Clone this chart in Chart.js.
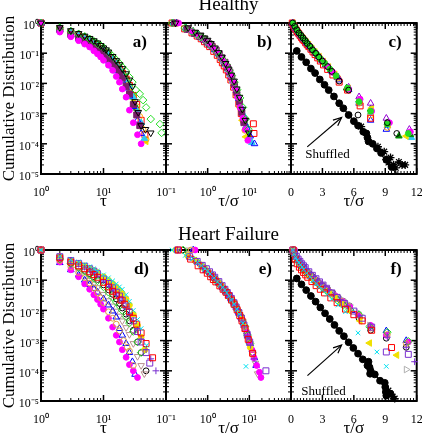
<!DOCTYPE html>
<html><head><meta charset="utf-8">
<script src="https://cdn.jsdelivr.net/npm/chart.js@4.4.1/dist/chart.umd.min.js"></script>
<style>
html,body{margin:0;padding:0;background:#fff;}
#wrap{position:relative;width:422px;height:440px;overflow:hidden;background:#fff;}
#wrap canvas{position:absolute;left:0;top:0;}
</style></head><body>
<div id="wrap">
<canvas id="pa" width="422" height="440"></canvas>
<canvas id="pb" width="422" height="440"></canvas>
<canvas id="pc" width="422" height="440"></canvas>
<canvas id="pd" width="422" height="440"></canvas>
<canvas id="pe" width="422" height="440"></canvas>
<canvas id="pf" width="422" height="440"></canvas>
</div>
<script>
// ---------------- axis ranges, ticks, labels ----------------
const yRange = [1e-5, 1];
const yTickValues = [1e-5, 1e-4, 1e-3, 1e-2, 1e-1, 1];
const yTickLabels = ['10⁻⁵', '10⁻⁴', '10⁻³', '10⁻²', '10⁻¹', '10⁰'];
const xRangeTau = [1, 100];
const xTickValuesTau = [1, 10];
const xTickLabelsTau = ['10⁰', '10¹'];
const xRangeScaledLog = [0.1, 100];
const xTickValuesScaledLog = [0.1, 1, 10];
const xTickLabelsScaledLog = ['10⁻¹', '10⁰', '10¹'];
const xRangeScaledLin = [0, 12];
const xTickValuesScaledLin = [0, 3, 6, 9, 12];
const xTickLabelsScaledLin = ['0', '3', '6', '9', '12'];
const yTitle = 'Cumulative Distribution';
const xTitleTau = 'τ';
const xTitleScaled = 'τ/σ';
const groupTitles = ['Healthy', 'Heart Failure'];
const panelLabels = ['a)', 'b)', 'c)', 'd)', 'e)', 'f)'];
const shuffledText = 'Shuffled';

// ---------------- Healthy: panel a (x = tau) ----------------
const tauA = [
 [1,2,3,4,5,6,7,8,9,10,11,12,14,16,18,20,23,26,29,32,36,40,47,57],
 [1,2,3,4,5,6,7,8,9,10,12,14,16,18,20,23,26,29,33,38,43,48,57,80,85],
 [1,2,3,4,5,6,7,8,9,10,12,14,16,18,20,23,26,30,35,40],
 [1,2,3,4,5,6,7,8,9,10,12,14,16,18,20,23,26,30,34,38],
 [1,2,3,4,5,6,7,8,10,12,14,16,18,20,23,26,30,35,40],
 [1,2,3,4,5,6,7,8,10,12,14,16,18,20,23,26,30,35,40,45],
 [1,2,3,4,5,6,7,8,10,12,14,16,18,20,23,26,30,34,38,43,48],
 [1,2,3,4,5,6,7,8,10,12,14,16,18,20,23,26,30,35,40,48],
 [1,2,3,4,5,6,7,8,10,12,14,16,18,20,23,26,30,34,40,46],
 [1,2,3,4,5,6,7,8,10,12,14,16,18,20,23,26,30,34]
];
const cdfA = [
 [1,0.72,0.56,0.45,0.37,0.31,0.26,0.22,0.18,0.15,0.13,0.11,0.078,0.057,0.042,0.031,0.021,0.013,0.008,0.0025,0.0011,0.0004,0.0003,0.00023],
 [1,0.7,0.54,0.44,0.36,0.3,0.25,0.21,0.18,0.155,0.11,0.08,0.06,0.046,0.035,0.025,0.016,0.011,0.006,0.0045,0.0028,0.0016,0.00066,0.00045,0.00023],
 [1,0.5,0.35,0.26,0.2,0.16,0.12,0.095,0.075,0.058,0.04,0.027,0.017,0.011,0.0065,0.0035,0.0013,0.0005,0.0002,0.0001],
 [1,0.6,0.42,0.33,0.26,0.21,0.17,0.14,0.115,0.095,0.065,0.045,0.032,0.022,0.015,0.008,0.0045,0.002,0.0009,0.0004],
 [1,0.58,0.4,0.3,0.24,0.19,0.15,0.12,0.08,0.055,0.037,0.026,0.018,0.012,0.007,0.0038,0.0017,0.0006,0.00022],
 [1,0.65,0.48,0.38,0.3,0.25,0.2,0.17,0.12,0.085,0.06,0.043,0.031,0.022,0.013,0.008,0.0035,0.0012,0.0005,0.00015],
 [1,0.62,0.45,0.35,0.28,0.23,0.19,0.16,0.11,0.078,0.055,0.04,0.029,0.021,0.013,0.0078,0.0037,0.0017,0.0008,0.0003,0.00014],
 [1,0.6,0.44,0.34,0.27,0.22,0.18,0.15,0.1,0.072,0.05,0.036,0.026,0.018,0.011,0.0065,0.003,0.0011,0.0004,0.00012],
 [1,0.64,0.47,0.37,0.3,0.24,0.2,0.165,0.115,0.082,0.058,0.042,0.03,0.022,0.014,0.0085,0.004,0.002,0.0006,0.0002],
 [1,0.7,0.53,0.43,0.35,0.29,0.24,0.2,0.14,0.1,0.07,0.05,0.036,0.026,0.016,0.009,0.004,0.0015]
];

// ---------------- Healthy: panel b (x = tau/sigma, log) ----------------
const uB = [
 [0.17,0.34,0.5,0.68,0.85,1.0,1.2,1.5,1.85,2.2,2.7,3.2,3.7,4.3,5.0,5.8,6.8,8.0,9.7],
 [0.14,0.28,0.42,0.56,0.7,0.85,1.1,1.4,1.7,2.0,2.4,2.8,3.3,3.8,4.4,5.1,6.0,7.0,8.2,9.5],
 [0.2,0.4,0.6,0.8,1.0,1.2,1.4,1.6,1.8,2.0,2.4,2.8,3.2,3.6,4.0,4.6,5.2,6.0,7.0,8.0,9.2],
 [0.16,0.32,0.48,0.64,0.8,0.96,1.12,1.28,1.6,1.9,2.2,2.6,3.0,3.4,3.8,4.4,5.0,5.8,6.6,7.4],
 [0.18,0.36,0.54,0.72,0.9,1.1,1.3,1.5,1.8,2.2,2.6,3.0,3.4,3.8,4.3,4.9,5.6,6.5,7.5,8.7,10.5,13.3],
 [0.15,0.3,0.45,0.6,0.75,0.9,1.05,1.2,1.5,1.8,2.1,2.4,2.7,3.1,3.5,4.0,4.6,5.3,6.2,7.3,8.5,11.5],
 [0.16,0.32,0.48,0.64,0.8,0.96,1.12,1.3,1.6,1.95,2.3,2.6,2.9,3.3,3.7,4.2,4.8,5.5,6.2,7.0,7.8],
 [0.17,0.34,0.51,0.68,0.85,1.0,1.2,1.4,1.7,2.0,2.4,2.75,3.1,3.4,3.9,4.4,5.1,5.9,6.8,8.2],
 [0.14,0.28,0.42,0.56,0.7,0.84,0.98,1.12,1.4,1.7,2.0,2.25,2.5,2.8,3.2,3.6,4.2,4.8,5.6,6.4,7.4,12.5,12.9],
 [0.15,0.3,0.45,0.6,0.75,0.9,1.05,1.2,1.5,1.8,2.1,2.4,2.7,3.0,3.4,3.9,4.4,5.0,5.7,6.5,7.5,8.5,9.5]
];
const cdfB = [
 [1,0.7,0.5,0.4,0.32,0.27,0.21,0.15,0.105,0.074,0.046,0.03,0.019,0.012,0.0066,0.0035,0.0014,0.0006,0.00023],
 [1,0.68,0.52,0.41,0.34,0.28,0.2,0.145,0.11,0.082,0.058,0.042,0.027,0.018,0.011,0.0062,0.0033,0.0016,0.00066,0.0003],
 [1,0.55,0.38,0.29,0.23,0.18,0.15,0.12,0.1,0.08,0.055,0.038,0.026,0.018,0.012,0.0068,0.0035,0.0016,0.0007,0.0003,0.00013],
 [1,0.62,0.45,0.36,0.29,0.24,0.2,0.17,0.125,0.092,0.07,0.05,0.034,0.024,0.016,0.009,0.005,0.0024,0.0011,0.0005],
 [1,0.58,0.42,0.33,0.26,0.2,0.16,0.13,0.1,0.068,0.046,0.032,0.022,0.015,0.0095,0.0058,0.0031,0.0014,0.0007,0.00035,0.00018,0.0001],
 [1,0.66,0.49,0.39,0.31,0.26,0.21,0.18,0.13,0.095,0.072,0.054,0.041,0.028,0.019,0.012,0.0072,0.0038,0.0018,0.0009,0.0004,0.00011],
 [1,0.63,0.46,0.36,0.29,0.24,0.2,0.165,0.115,0.08,0.057,0.043,0.032,0.022,0.015,0.009,0.0053,0.0028,0.0014,0.0006,0.00028],
 [1,0.6,0.44,0.34,0.27,0.22,0.18,0.15,0.1,0.074,0.05,0.036,0.026,0.019,0.012,0.0075,0.0038,0.0016,0.0006,0.00017],
 [1,0.64,0.47,0.37,0.3,0.24,0.2,0.165,0.115,0.085,0.062,0.048,0.038,0.028,0.019,0.013,0.0075,0.0042,0.0021,0.001,0.0006,0.00046,0.00022],
 [1,0.7,0.53,0.43,0.35,0.29,0.24,0.2,0.14,0.1,0.075,0.056,0.043,0.033,0.022,0.014,0.0095,0.0055,0.0028,0.0015,0.0008,0.0004,0.0002]
];

// ---------------- Healthy: panel c (x = tau/sigma, linear) ----------------
const uC = [
 [0.15,0.35,0.55,0.75,0.95,1.15,1.35,1.55,1.8,2.05,2.35,2.65,3.0,3.5,3.9,4.6,5.5,6.4,9.2,10.1],
 [0.2,0.4,0.6,0.8,1.0,1.2,1.4,1.6,1.9,2.2,2.5,2.8,3.2,3.7,4.3,5.4,6.5,7.6,9.2,11.2],
 [0.18,0.36,0.54,0.72,0.9,1.1,1.3,1.5,1.75,2.0,2.3,2.6,3.0,3.5,4.0,5.5,6.6,7.7,9.4,11.4],
 [0.15,0.3,0.45,0.6,0.75,0.9,1.05,1.2,1.5,1.8,2.1,2.4,2.7,3.0,3.4,3.9,4.5,5.5,6.5,7.6,9.1,11.3],
 [0.12,0.25,0.37,0.5,0.62,0.75,0.87,1.0,1.12,1.25,1.4,1.55,1.7,1.9,2.1,2.3,2.55,2.8,3.1,3.5,4.0,4.6,5.4,6.6,7.6],
 [0.17,0.34,0.5,0.68,0.85,1.0,1.2,1.4,1.6,1.85,2.1,2.4,2.8,3.2,3.9,4.5,5.4,6.5,7.6,9.2],
 [0.2,0.4,0.6,0.8,1.0,1.25,1.5,1.75,2.0,2.3,2.6,3.0,3.5,4.0,4.6,5.5,6.5,7.6,9.1],
 [0.16,0.32,0.48,0.64,0.8,1.0,1.2,1.45,1.7,2.0,2.3,2.7,3.1,3.6,4.2,5.5,6.6,7.7,9.3,11.0],
 [0.15,0.3,0.45,0.6,0.75,0.9,1.05,1.2,1.4,1.6,1.8,2.05,2.3,2.6,2.9,3.3,3.8,4.4,5.3,6.5,7.6,9.2,10.3,11.4],
 [0.18,0.36,0.54,0.72,0.9,1.1,1.3,1.55,1.8,2.1,2.4,2.8,3.3,3.9,4.5,5.4,6.5,7.6,9.2,11.5]
];
const cdfC = [
 [1,0.78,0.6,0.47,0.39,0.32,0.26,0.21,0.17,0.13,0.1,0.075,0.055,0.036,0.025,0.012,0.006,0.0009,0.0005,0.00022],
 [1,0.72,0.55,0.45,0.37,0.3,0.25,0.2,0.155,0.115,0.088,0.066,0.047,0.03,0.018,0.007,0.0025,0.0012,0.00045,0.00022],
 [1,0.75,0.58,0.48,0.4,0.33,0.27,0.22,0.175,0.14,0.105,0.08,0.056,0.036,0.023,0.0065,0.003,0.0012,0.0005,0.00025],
 [1,0.8,0.66,0.56,0.48,0.41,0.35,0.3,0.22,0.17,0.13,0.1,0.076,0.058,0.04,0.026,0.016,0.0075,0.0036,0.0022,0.0007,0.0003],
 [1,0.82,0.68,0.58,0.5,0.44,0.38,0.33,0.29,0.26,0.22,0.19,0.165,0.135,0.11,0.09,0.07,0.055,0.041,0.029,0.019,0.011,0.006,0.0018,0.0007],
 [1,0.76,0.6,0.5,0.42,0.36,0.3,0.25,0.2,0.16,0.125,0.095,0.068,0.048,0.025,0.015,0.0065,0.0022,0.0009,0.00035],
 [1,0.7,0.54,0.44,0.36,0.29,0.22,0.175,0.14,0.105,0.08,0.056,0.036,0.023,0.013,0.0062,0.0022,0.0006,0.0003],
 [1,0.78,0.62,0.52,0.44,0.36,0.3,0.24,0.19,0.145,0.11,0.078,0.053,0.035,0.02,0.0068,0.0028,0.0015,0.00045,0.00018],
 [1,0.79,0.64,0.54,0.46,0.4,0.34,0.29,0.24,0.2,0.165,0.13,0.1,0.078,0.06,0.042,0.027,0.016,0.007,0.0028,0.0014,0.0005,0.00018,0.0002],
 [1,0.74,0.58,0.47,0.39,0.32,0.26,0.21,0.165,0.125,0.095,0.066,0.044,0.025,0.015,0.0068,0.0026,0.0011,0.0004,0.00016]
];
const shuffledCu = [0.55,1.0,1.45,1.9,2.3,2.75,3.2,3.6,4.1,4.6,5.0,5.5,6.0,6.4,6.9,7.2,7.3,7.4,7.8,8.2,8.6,9.1,9.6];
const shuffledCp = [0.119,0.075,0.05,0.031,0.022,0.0135,0.009,0.006,0.0037,0.0022,0.0015,0.0009,0.00056,0.0004,0.00025,0.00022,0.00016,0.00012,0.0001,0.00007,0.00005,0.00003,0.000017];
const shuffledStarsCu = [6.7,8.3,8.9,9.1,9.3,9.5,9.8,10.0,10.3,10.6,10.9];
const shuffledStarsCp = [0.00037,0.00008,0.000055,0.00003,0.000024,0.000035,0.00002,0.000016,0.000025,0.00002,0.00002];
const shuffledFitCu = [0.54, 10.07];
const shuffledFitCp = [0.12, 0.0000105];

// ---------------- Heart failure: panel d (x = tau) ----------------
const tauD = [
 [1,2,3,4,5,6,7,8,10,12,14,16,18,20,23,26,30,35,40,49],
 [1,2,3,4,5,6,7,8,10,12,14,16,19,22,26,30,34,40,48,61],
 [1,2,3,4,5,6,7,8,10,12,14,16,18,20,23,26,30,35,40,48,55],
 [1,2,3,4,5,6,7,8,10,12,14,16,18,20,23,26,30,35,40,48,57,69],
 [1,2,3,4,5,6,7,8,10,12,14,16,18,20,23,26,30,35,40,46],
 [1,2,3,4,5,6,7,8,10,12,14,16,18,20,23,26,30,35,40],
 [1,2,3,4,5,6,7,8,9,10,12,14,16,18,21,24,26,30],
 [1,2,3,4,5,6,7,8,9,10,12,14,16,18,20,23,26,30,35],
 [1,2,3,4,5,6,7,8,10,12,14,16,18,20,23,26,29,32],
 [1,2,3,4,5,6,7,8,10,12,14,16,18,20,23,26,30,35,40,45],
 [1,2,3,4,5,6,7,8,10,12,14,16,18,20,23,26,30,35,40,48]
];
const cdfD = [
 [1,0.62,0.48,0.4,0.33,0.28,0.24,0.2,0.15,0.12,0.095,0.075,0.06,0.05,0.033,0.02,0.01,0.005,0.0025,0.0007],
 [1,0.55,0.4,0.3,0.24,0.19,0.155,0.125,0.085,0.06,0.043,0.032,0.022,0.016,0.009,0.0055,0.0035,0.0018,0.0008,0.00027],
 [1,0.6,0.45,0.36,0.29,0.24,0.2,0.165,0.11,0.078,0.056,0.04,0.03,0.022,0.014,0.0085,0.0045,0.002,0.0009,0.0004,0.00018],
 [1,0.58,0.43,0.34,0.27,0.22,0.18,0.15,0.1,0.072,0.052,0.038,0.028,0.021,0.013,0.008,0.0045,0.0022,0.0011,0.0005,0.00025,0.0001],
 [1,0.6,0.45,0.36,0.3,0.25,0.21,0.18,0.13,0.1,0.077,0.06,0.046,0.036,0.024,0.015,0.0075,0.0032,0.0013,0.0005],
 [1,0.5,0.35,0.26,0.2,0.155,0.12,0.095,0.06,0.04,0.027,0.019,0.014,0.01,0.0062,0.0038,0.002,0.0009,0.0004],
 [1,0.45,0.28,0.18,0.12,0.08,0.055,0.038,0.026,0.018,0.009,0.0055,0.0035,0.0021,0.001,0.0006,0.00045,0.00015],
 [1,0.4,0.22,0.13,0.075,0.05,0.033,0.023,0.016,0.011,0.0055,0.0028,0.0015,0.0009,0.0005,0.00028,0.00016,0.0001,0.00006],
 [1,0.38,0.22,0.15,0.1,0.072,0.053,0.04,0.024,0.015,0.0095,0.006,0.0025,0.0015,0.0008,0.0004,0.0002,0.000076],
 [1,0.48,0.3,0.2,0.14,0.1,0.075,0.057,0.034,0.021,0.014,0.0095,0.0065,0.0045,0.0027,0.0016,0.0008,0.0003,0.00015,0.00008],
 [1,0.52,0.36,0.27,0.21,0.165,0.13,0.105,0.07,0.048,0.034,0.024,0.017,0.012,0.0075,0.0045,0.0022,0.0009,0.0004,0.0001]
];

// ---------------- Heart failure: panel e (x = tau/sigma, log) ----------------
const uE = [
 [0.14,0.29,0.43,0.57,0.71,0.86,1.0,1.14,1.43,1.71,2.0,2.29,2.57,2.86,3.29,3.71,4.29,5.0,5.71,7.0,8.3],
 [0.2,0.39,0.59,0.78,0.98,1.18,1.37,1.57,1.96,2.35,2.75,3.14,3.73,4.31,5.1,5.88,6.67,7.84,9.41,12.0],
 [0.19,0.37,0.56,0.74,0.93,1.11,1.3,1.48,1.85,2.22,2.59,2.96,3.33,3.7,4.26,4.81,5.56,6.48,7.41,8.89,10.2,25],
 [0.19,0.38,0.57,0.75,0.94,1.13,1.32,1.51,1.89,2.26,2.64,3.02,3.4,3.77,4.34,4.91,5.66,6.6,7.55,9.06,10.75,13.0],
 [0.17,0.33,0.5,0.67,0.83,1.0,1.17,1.33,1.67,2.0,2.33,2.67,3.0,3.33,3.83,4.33,5.0,5.83,6.67,7.67,10.5],
 [0.26,0.52,0.78,1.04,1.3,1.56,1.82,2.08,2.6,3.12,3.64,4.16,4.68,5.19,5.97,6.75,7.79,9.09,10.4],
 [0.4,0.8,1.2,1.6,2.0,2.4,2.8,3.2,3.6,4.0,4.8,5.6,6.4,7.2,8.4,9.6,10.4,12.0],
 [0.5,1.0,1.5,2.0,2.5,3.0,3.5,4.0,4.5,5.0,6.0,7.0,8.0,9.0,10,11.5,13,15,17.5,19],
 [0.45,0.91,1.36,1.82,2.27,2.73,3.18,3.64,4.55,5.45,6.36,7.27,8.18,9.09,10.45,11.8,13.2,14.5],
 [0.35,0.7,1.05,1.4,1.75,2.1,2.46,2.81,3.51,4.21,4.91,5.61,6.32,7.02,8.07,9.12,10.5,12.3,14.0,15.8],
 [0.25,0.5,0.75,1.0,1.25,1.5,1.75,2.0,2.5,3.0,3.5,4.0,4.5,5.0,5.75,6.5,7.5,8.75,10,12]
];
const cdfE = [
 [1,0.66,0.52,0.38,0.3,0.24,0.2,0.16,0.12,0.088,0.072,0.058,0.047,0.038,0.029,0.022,0.016,0.011,0.0075,0.0038,0.00014],
 [1,0.5,0.3,0.22,0.17,0.13,0.105,0.088,0.065,0.05,0.04,0.031,0.022,0.016,0.0105,0.0068,0.0045,0.0025,0.0011,0.00038],
 [1,0.6,0.42,0.31,0.24,0.19,0.15,0.125,0.09,0.066,0.05,0.039,0.031,0.025,0.018,0.013,0.0085,0.0055,0.0033,0.0016,0.0009,0.0001],
 [1,0.58,0.38,0.28,0.21,0.165,0.135,0.11,0.078,0.058,0.045,0.035,0.027,0.022,0.016,0.0115,0.0075,0.0048,0.003,0.0015,0.0007,0.00025],
 [1,0.65,0.45,0.33,0.26,0.2,0.16,0.135,0.1,0.074,0.057,0.045,0.036,0.029,0.022,0.016,0.011,0.0075,0.005,0.003,0.0006],
 [1,0.44,0.26,0.18,0.135,0.1,0.08,0.066,0.046,0.033,0.024,0.018,0.0135,0.0105,0.007,0.0048,0.003,0.0015,0.0008],
 [1,0.27,0.15,0.1,0.072,0.055,0.043,0.034,0.027,0.021,0.014,0.0092,0.0062,0.0042,0.0022,0.0012,0.0008,0.00035],
 [1,0.2,0.11,0.072,0.05,0.036,0.026,0.02,0.015,0.0115,0.0072,0.0045,0.0026,0.0015,0.0009,0.0005,0.00027,0.00015,0.00009,0.00006],
 [1,0.21,0.12,0.08,0.056,0.041,0.031,0.024,0.015,0.0088,0.0058,0.0039,0.0025,0.0014,0.0008,0.0005,0.00027,0.00015],
 [1,0.3,0.18,0.12,0.085,0.065,0.05,0.04,0.026,0.018,0.012,0.0085,0.006,0.0043,0.0025,0.0014,0.0008,0.00035,0.00018,0.00008],
 [1,0.45,0.28,0.2,0.15,0.115,0.09,0.073,0.05,0.036,0.026,0.0195,0.0148,0.0112,0.0075,0.0052,0.0033,0.0017,0.0009,0.0004]
];

// ---------------- Heart failure: panel f (x = tau/sigma, linear) ----------------
const uF = [
 [0.15,0.3,0.45,0.6,0.75,0.9,1.05,1.2,1.5,1.8,2.1,2.4,2.7,3.0,3.45,3.9,4.5,5.2,6.4,8.2,9.1],
 [0.2,0.4,0.6,0.8,1.0,1.2,1.4,1.6,2.0,2.4,2.8,3.2,3.8,4.4,5.2,6.0,6.8,7.7,9.6],
 [0.17,0.34,0.51,0.68,0.85,1.02,1.19,1.36,1.7,2.04,2.38,2.72,3.06,3.4,3.9,4.4,5.1,6.0,6.8,7.7,9.1,11.2],
 [0.18,0.36,0.54,0.72,0.9,1.08,1.26,1.44,1.8,2.16,2.52,2.88,3.24,3.6,4.1,4.7,5.4,6.5,7.6,9.2,11.0,11.8],
 [0.16,0.32,0.48,0.64,0.8,0.96,1.12,1.28,1.6,1.92,2.24,2.56,2.88,3.2,3.7,4.2,4.8,5.6,6.6,7.5,10.1],
 [0.22,0.44,0.66,0.88,1.1,1.32,1.54,1.76,2.2,2.64,3.08,3.52,3.96,4.4,5.0,5.6,6.5,7.5,9.2,11.2],
 [0.3,0.6,0.9,1.2,1.5,1.8,2.1,2.4,2.7,3.0,3.6,4.2,4.8,5.4,6.5,7.6,9.2,11.0],
 [0.35,0.7,1.05,1.4,1.75,2.1,2.45,2.8,3.15,3.5,4.2,4.9,5.6,6.4,7.6,9.1,11.2],
 [0.32,0.64,0.96,1.28,1.6,1.92,2.24,2.56,3.2,3.84,4.5,5.1,5.8,6.5,7.6,9.1,11.0],
 [0.28,0.56,0.84,1.12,1.4,1.68,1.96,2.24,2.8,3.36,3.92,4.48,5.04,5.6,6.4,7.5,11.0],
 [0.25,0.5,0.75,1.0,1.25,1.5,1.75,2.0,2.5,3.0,3.5,4.0,4.5,5.0,5.6,6.5,7.6,9.1,11.0]
];
const cdfF = [
 [1,0.72,0.56,0.46,0.38,0.32,0.27,0.23,0.17,0.13,0.1,0.078,0.06,0.048,0.034,0.024,0.015,0.009,0.0018,0.00042,0.00014],
 [1,0.5,0.35,0.27,0.22,0.18,0.15,0.125,0.09,0.066,0.05,0.038,0.026,0.018,0.011,0.0072,0.0045,0.0022,0.00059],
 [1,0.8,0.62,0.5,0.42,0.35,0.3,0.26,0.19,0.145,0.112,0.088,0.069,0.054,0.038,0.027,0.017,0.0095,0.0055,0.0028,0.00042,0.00035],
 [1,0.75,0.58,0.47,0.39,0.33,0.28,0.24,0.175,0.132,0.1,0.078,0.061,0.048,0.034,0.023,0.014,0.0065,0.0028,0.0013,0.0006,0.0002],
 [1,0.74,0.57,0.46,0.38,0.32,0.27,0.23,0.17,0.13,0.1,0.08,0.063,0.05,0.035,0.025,0.016,0.0095,0.0045,0.00083,0.00033],
 [1,0.6,0.42,0.33,0.26,0.21,0.17,0.14,0.1,0.073,0.054,0.04,0.03,0.022,0.015,0.0105,0.0072,0.0029,0.0019,0.00095],
 [1,0.5,0.33,0.24,0.18,0.145,0.115,0.095,0.078,0.064,0.043,0.029,0.02,0.014,0.0068,0.0026,0.0016,0.0008],
 [1,0.45,0.29,0.2,0.15,0.115,0.09,0.072,0.058,0.047,0.031,0.02,0.013,0.0072,0.0032,0.0015,0.0009],
 [1,0.46,0.3,0.22,0.165,0.13,0.1,0.08,0.052,0.035,0.023,0.015,0.0098,0.0068,0.003,0.0021,0.001],
 [1,0.52,0.36,0.27,0.21,0.17,0.14,0.115,0.08,0.057,0.04,0.029,0.021,0.015,0.0085,0.0032,0.00011],
 [1,0.56,0.4,0.31,0.25,0.2,0.165,0.135,0.095,0.068,0.05,0.037,0.027,0.02,0.014,0.0055,0.0022,0.0012,0.0006]
];
const shuffledFu = [0.55,1.0,1.45,1.9,2.35,2.8,3.25,3.7,4.15,4.6,5.05,5.5,5.95,6.4,6.85,7.3,7.4,7.5,7.55,7.6,8.0,8.5,8.95,9.0,9.05,9.1,9.5];
const shuffledFp = [0.114,0.073,0.047,0.03,0.0195,0.0125,0.008,0.0052,0.0033,0.0021,0.0014,0.00088,0.00057,0.00037,0.00024,0.00015,0.0002,0.00013,0.00008,0.0001,0.000076,0.000047,0.00004,0.000029,0.00002,0.000015,0.0000175];
const shuffledStarsFu = [9.3,9.7,9.9];
const shuffledStarsFp = [0.000022,0.000014,0.000012];
const shuffledFitFu = [0.54, 9.9];
const shuffledFitFp = [0.115, 0.000012];

// annotation anchors (data units)
const noteC = {text:[3.48, 0.000044], arrowFrom:[1.55, 0.000079], arrowTo:[4.83, 0.00074]};
const noteF = {text:[3.11, 0.000021], arrowFrom:[1.57, 0.000069], arrowTo:[4.83, 0.00071]};

// ---------------- styles ----------------
const SERIF = "'Liberation Serif','Times New Roman',Times,serif";
const styleHealthyAB = [
 {c:'#000000', s:'triangle', rot:180, fill:false},
 {c:'#22dd22', s:'rectRot', fill:false},
 {c:'#ff00ff', s:'circle', fill:true},
 {c:'#7a1f6a', s:'rect', fill:true},
 {c:'#0000ff', s:'triangle', fill:false},
 {c:'#30c8f0', s:'triangle', fill:true},
 {c:'#ffa500', s:'circle', fill:false},
 {c:'#f0e000', s:'triangle', rot:270, fill:true},
 {c:'#ff0000', s:'rect', fill:false},
 {c:'#008c00', s:'triangle', fill:true}
];
const styleHealthyC = [
 {c:'#000000', s:'circle', fill:false},
 {c:'#22dd22', s:'circle', fill:true},
 {c:'#ff00ff', s:'circle', fill:true},
 {c:'#9400d3', s:'triangle', fill:false},
 {c:'#ff0000', s:'rect', fill:false},
 {c:'#ffa500', s:'circle', fill:false},
 {c:'#0000ff', s:'triangle', fill:false},
 {c:'#f0e000', s:'triangle', rot:270, fill:true},
 {c:'#008c00', s:'triangle', fill:true},
 {c:'#30c8f0', s:'triangle', fill:true}
];
const styleHF_DE = [
 {c:'#00e0f0', s:'crossRot', fill:false},
 {c:'#ff0000', s:'rect', fill:false},
 {c:'#7a2fd0', s:'rect', fill:false},
 {c:'#7a2fd0', s:'cross', fill:false},
 {c:'#f0e000', s:'circle', fill:true},
 {c:'#22dd22', s:'rectRot', fill:false},
 {c:'#e0a040', s:'circle', fill:false},
 {c:'#ff00ff', s:'circle', fill:true},
 {c:'#0000ff', s:'triangle', fill:false},
 {c:'#b89090', s:'triangle', rot:180, fill:false},
 {c:'#000000', s:'circle', fill:false}
];
const styleHF_F = [
 {c:'#00e0f0', s:'crossRot', fill:false},
 {c:'#ff0000', s:'rect', fill:false},
 {c:'#7a2fd0', s:'rect', fill:false},
 {c:'#7a2fd0', s:'cross', fill:false},
 {c:'#f0e000', s:'triangle', rot:270, fill:true},
 {c:'#22dd22', s:'rectRot', fill:false},
 {c:'#e0a040', s:'circle', fill:false},
 {c:'#ff00ff', s:'circle', fill:true},
 {c:'#0000ff', s:'triangle', fill:false},
 {c:'#b0b0b0', s:'triangle', rot:90, fill:false},
 {c:'#000000', s:'circle', fill:false}
];
const shapeRadius = {circle:2.9, rect:4.2, rectRot:3.8, triangle:3.8, cross:3.4, crossRot:3.2, star:4.0};

// ---------------- helpers ----------------
function pts(xs, ys){ return xs.map((x,i)=>({x:x, y:ys[i]})); }
function seriesSets(xss, yss, styles){
  return xss.map((xs,i)=>{
    const s = styles[i];
    return {
      data: pts(xs, yss[i]), showLine:false, clip:false,
      pointStyle:s.s, pointRotation:s.rot||0, pointRadius:shapeRadius[s.s],
      pointBorderWidth:1, borderColor:s.c, pointBorderColor:s.c,
      backgroundColor: s.fill ? s.c : 'rgba(0,0,0,0)', pointBackgroundColor: s.fill ? s.c : 'rgba(0,0,0,0)'
    };
  });
}
function shuffledSets(u, p, su, sp, fu, fp){
  return [
    {data:pts(fu,fp), showLine:true, pointRadius:0, borderColor:'#000', borderWidth:1.3, backgroundColor:'#000'},
    {data:pts(u,p), showLine:false, clip:false, pointStyle:'circle', pointRadius:3.4, pointBorderWidth:1,
     borderColor:'#000', pointBorderColor:'#000', backgroundColor:'#000', pointBackgroundColor:'#000'},
    {data:pts(su,sp), showLine:false, clip:false, pointStyle:'star', pointRadius:4.0, pointBorderWidth:1.3,
     borderColor:'#000', pointBorderColor:'#000', backgroundColor:'#000', pointBackgroundColor:'#000'}
  ];
}
function same(a,b){ return Math.abs(a-b) <= 1e-9*Math.max(Math.abs(a),Math.abs(b),1e-12); }
function labelFor(v, vals, labels){ const i = vals.findIndex(t=>same(t,v)); return i>=0 ? labels[i] : ''; }
function logTicks(min, max){
  const out=[]; for(let e=Math.floor(Math.log10(min)); e<=Math.ceil(Math.log10(max)); e++){
    for(let m=1;m<=9;m++){ const v = +(m*Math.pow(10,e)).toPrecision(6); if(v>=min*(1-1e-9) && v<=max*(1+1e-9)) out.push(v); } }
  return out;
}
function linTicks(min, max, step){ const out=[]; const n=Math.round((max-min)/step); for(let i=0;i<=n;i++) out.push(+(min+i*step).toFixed(6)); return out; }
function isMajorTick(scale, v){
  if (scale.type === 'logarithmic') { const l = Math.log10(v); return Math.abs(l-Math.round(l)) < 1e-6; }
  return Math.abs(v/3 - Math.round(v/3)) < 1e-6;
}

// frame + inward ticks on all four sides
const frameTicks = {
  id:'frameTicks',
  beforeDatasetsDraw(chart){
    const {ctx, chartArea:a} = chart; const xs = chart.scales.x, ys = chart.scales.y;
    ctx.save(); ctx.strokeStyle='#000'; ctx.lineCap='butt';
    const seg=(x1,y1,x2,y2)=>{ctx.beginPath();ctx.moveTo(x1,y1);ctx.lineTo(x2,y2);ctx.stroke();};
    xs.ticks.forEach(t=>{
      const p = xs.getPixelForValue(t.value); if (p < a.left-0.5 || p > a.right+0.5) return;
      const maj = isMajorTick(xs, t.value); const L = maj?6:3; ctx.lineWidth = maj?1.5:1;
      seg(p,a.bottom,p,a.bottom-L); seg(p,a.top,p,a.top+L);
    });
    ys.ticks.forEach(t=>{
      const p = ys.getPixelForValue(t.value); if (p < a.top-0.5 || p > a.bottom+0.5) return;
      const maj = isMajorTick(ys, t.value); const L = maj?6:3; ctx.lineWidth = maj?1.5:1;
      seg(a.left,p,a.left+L,p); seg(a.right,p,a.right-L,p);
    });
    ctx.lineWidth = 2; ctx.strokeRect(a.left, a.top, a.right-a.left, a.bottom-a.top);
    ctx.restore();
  }
};

function decor(d){
  return {
    id:'decor',
    afterDatasetsDraw(chart){
      const {ctx, chartArea:a} = chart; const xs = chart.scales.x, ys = chart.scales.y;
      ctx.save(); ctx.fillStyle='#000'; ctx.strokeStyle='#000';
      ctx.font = 'bold 17px ' + SERIF; ctx.textAlign='right'; ctx.textBaseline='middle';
      ctx.fillText(d.label, a.right - d.labelInset, a.top + 20);
      if (d.group) {
        ctx.font = '19px ' + SERIF; ctx.textAlign='center'; ctx.textBaseline='alphabetic';
        ctx.fillText(d.group, (a.left+a.right)/2, a.top - d.groupGap);
      }
      if (d.note) {
        const n = d.note;
        ctx.font = '13px ' + SERIF; ctx.textAlign='center'; ctx.textBaseline='middle';
        ctx.fillText(shuffledText, xs.getPixelForValue(n.text[0]), ys.getPixelForValue(n.text[1]));
        const x1 = xs.getPixelForValue(n.arrowFrom[0]), y1 = ys.getPixelForValue(n.arrowFrom[1]);
        const x2 = xs.getPixelForValue(n.arrowTo[0]), y2 = ys.getPixelForValue(n.arrowTo[1]);
        ctx.lineWidth = 1.2;
        ctx.beginPath(); ctx.moveTo(x1,y1); ctx.lineTo(x2,y2); ctx.stroke();
        const ang = Math.atan2(y2-y1, x2-x1), h = 9, w = 0.42;
        ctx.beginPath();
        ctx.moveTo(x2 - h*Math.cos(ang-w), y2 - h*Math.sin(ang-w));
        ctx.lineTo(x2, y2);
        ctx.lineTo(x2 - h*Math.cos(ang+w), y2 - h*Math.sin(ang+w));
        ctx.stroke();
      }
      ctx.restore();
    }
  };
}

const W = 422, H = 440, X_AXIS_H = 38, Y_AXIS_W = 41;
function panel(id, p){
  const yW = p.showY ? Y_AXIS_W : 0;
  const xTicksAll = p.xType === 'logarithmic' ? logTicks(p.xRange[0], p.xRange[1]) : linTicks(p.xRange[0], p.xRange[1], 0.3);
  const yTicksAll = logTicks(yRange[0], yRange[1]);
  return new Chart(document.getElementById(id), {
    type:'scatter',
    data:{datasets:p.datasets},
    options:{
      responsive:false, animation:false, devicePixelRatio:1, events:[],
      layout:{padding:{left:p.box[0]-yW, top:p.box[1], right:W-p.box[2], bottom:H-p.box[3]-X_AXIS_H}},
      plugins:{legend:{display:false}, tooltip:{enabled:false}, title:{display:false}},
      scales:{
        x:{
          type:p.xType, position:'bottom', min:p.xRange[0], max:p.xRange[1],
          afterBuildTicks:s=>{ s.ticks = xTicksAll.map(v=>({value:v})); },
          afterFit:s=>{ s.height = X_AXIS_H; s.paddingLeft = 0; s.paddingRight = 0; },
          grid:{display:false, drawTicks:false}, border:{display:false},
          ticks:{autoSkip:false, maxRotation:0, minRotation:0, padding:12, color:'#000',
                 font:{family:SERIF, size:12}, callback:v=>labelFor(v, p.xTickValues, p.xTickLabels)},
          title:{display:true, text:p.xTitle, color:'#000', font:{family:SERIF, size:17}, padding:{top:0, bottom:0}}
        },
        y:{
          type:'logarithmic', position:'left', min:yRange[0], max:yRange[1],
          afterBuildTicks:s=>{ s.ticks = yTicksAll.map(v=>({value:v})); },
          afterFit:s=>{ s.width = yW; s.paddingTop = 0; s.paddingBottom = 0; },
          grid:{display:false, drawTicks:false}, border:{display:false},
          ticks:{display:p.showY, autoSkip:false, padding:2, labelOffset:3, color:'#000',
                 font:{family:SERIF, size:12}, callback:v=>labelFor(v, yTickValues, yTickLabels)},
          title:{display:p.showY, text:yTitle, color:'#000', font:{family:SERIF, size:17, lineHeight:1.1}, padding:{top:0, bottom:0}}
        }
      }
    },
    plugins:[frameTicks, decor(p.decor)]
  });
}

// chart-area boxes [left, top, right, bottom] in page pixels
const TOP = [23, 174], BOT = [250, 401], COLS = [[41,166],[166,291],[291,417]];

panel('pa', {box:[COLS[0][0],TOP[0],COLS[0][1],TOP[1]], showY:true, xType:'logarithmic', xRange:xRangeTau,
  xTickValues:xTickValuesTau, xTickLabels:xTickLabelsTau, xTitle:xTitleTau,
  datasets:seriesSets(tauA, cdfA, styleHealthyAB), decor:{label:panelLabels[0], labelInset:19}});
panel('pb', {box:[COLS[1][0],TOP[0],COLS[1][1],TOP[1]], showY:false, xType:'logarithmic', xRange:xRangeScaledLog,
  xTickValues:xTickValuesScaledLog, xTickLabels:xTickLabelsScaledLog, xTitle:xTitleScaled,
  datasets:seriesSets(uB, cdfB, styleHealthyAB), decor:{label:panelLabels[1], labelInset:19, group:groupTitles[0], groupGap:13}});
panel('pc', {box:[COLS[2][0],TOP[0],COLS[2][1],TOP[1]], showY:false, xType:'linear', xRange:xRangeScaledLin,
  xTickValues:xTickValuesScaledLin, xTickLabels:xTickLabelsScaledLin, xTitle:xTitleScaled,
  datasets:shuffledSets(shuffledCu, shuffledCp, shuffledStarsCu, shuffledStarsCp, shuffledFitCu, shuffledFitCp).concat(seriesSets(uC, cdfC, styleHealthyC)),
  decor:{label:panelLabels[2], labelInset:15, note:noteC}});
panel('pd', {box:[COLS[0][0],BOT[0],COLS[0][1],BOT[1]], showY:true, xType:'logarithmic', xRange:xRangeTau,
  xTickValues:xTickValuesTau, xTickLabels:xTickLabelsTau, xTitle:xTitleTau,
  datasets:seriesSets(tauD, cdfD, styleHF_DE), decor:{label:panelLabels[3], labelInset:17}});
panel('pe', {box:[COLS[1][0],BOT[0],COLS[1][1],BOT[1]], showY:false, xType:'logarithmic', xRange:xRangeScaledLog,
  xTickValues:xTickValuesScaledLog, xTickLabels:xTickLabelsScaledLog, xTitle:xTitleScaled,
  datasets:seriesSets(uE, cdfE, styleHF_DE), decor:{label:panelLabels[4], labelInset:19, group:groupTitles[1], groupGap:10}});
panel('pf', {box:[COLS[2][0],BOT[0],COLS[2][1],BOT[1]], showY:false, xType:'linear', xRange:xRangeScaledLin,
  xTickValues:xTickValuesScaledLin, xTickLabels:xTickLabelsScaledLin, xTitle:xTitleScaled,
  datasets:shuffledSets(shuffledFu, shuffledFp, shuffledStarsFu, shuffledStarsFp, shuffledFitFu, shuffledFitFp).concat(seriesSets(uF, cdfF, styleHF_F)),
  decor:{label:panelLabels[5], labelInset:15, note:noteF}});
</script>
</body></html>
